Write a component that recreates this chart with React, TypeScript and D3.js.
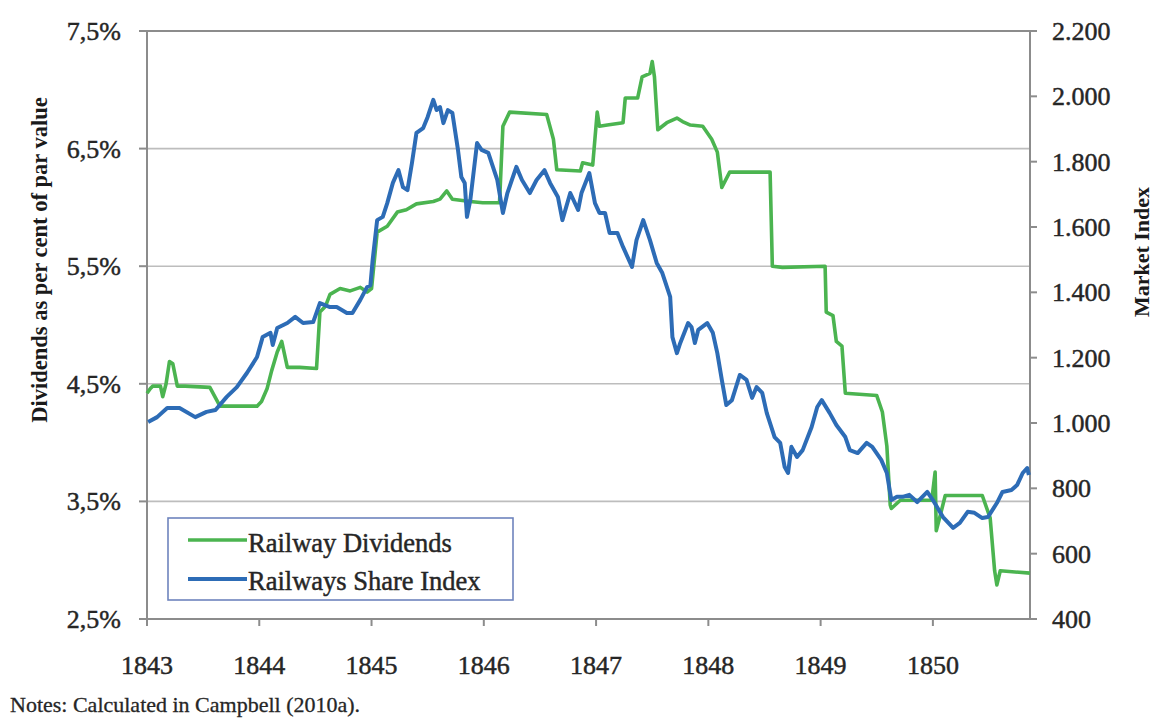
import React from "react";
import * as d3 from "d3";

const leftTicks = [2.5, 3.5, 4.5, 5.5, 6.5, 7.5];
const gridValues = [3.5, 4.5, 5.5, 6.5];
const rightTicks = [400, 600, 800, 1000, 1200, 1400, 1600, 1800, 2000, 2200];
const yearTicks = [1843, 1844, 1845, 1846, 1847, 1848, 1849, 1850];
const xDomain: [number, number] = [1843, 1850.865];
const leftDomain: [number, number] = [2.5, 7.5];
const rightDomain: [number, number] = [400, 2200];

const leftTitle = "Dividends as per cent of par value";
const rightTitle = "Market Index";
const seriesNames = ["Railway Dividends", "Railways Share Index"];
const note = "Notes: Calculated in Campbell (2010a).";

// Railway dividends, per cent of par value
const dividends: [number, number][] = [
  [1843.0, 4.42], [1843.03, 4.46], [1843.05, 4.48], [1843.12, 4.48], [1843.14, 4.39],
  [1843.17, 4.5], [1843.2, 4.69], [1843.23, 4.67], [1843.27, 4.48], [1843.34, 4.48],
  [1843.56, 4.47], [1843.65, 4.31], [1843.98, 4.31], [1844.02, 4.35], [1844.07, 4.46],
  [1844.11, 4.61], [1844.16, 4.77], [1844.2, 4.86], [1844.25, 4.64], [1844.36, 4.64],
  [1844.51, 4.63], [1844.54, 5.11], [1844.59, 5.16], [1844.63, 5.26], [1844.72, 5.31],
  [1844.81, 5.29], [1844.9, 5.32], [1844.96, 5.28], [1845.0, 5.31], [1845.05, 5.79],
  [1845.14, 5.84], [1845.23, 5.96], [1845.31, 5.98], [1845.4, 6.03], [1845.55, 6.05],
  [1845.61, 6.07], [1845.67, 6.14], [1845.72, 6.07], [1845.88, 6.05], [1845.99, 6.04],
  [1846.14, 6.04], [1846.17, 6.69], [1846.23, 6.81], [1846.56, 6.79], [1846.62, 6.58],
  [1846.65, 6.32], [1846.86, 6.31], [1846.88, 6.38], [1846.97, 6.36], [1847.01, 6.81],
  [1847.03, 6.69], [1847.1, 6.7], [1847.24, 6.72], [1847.26, 6.93], [1847.37, 6.93],
  [1847.41, 7.11], [1847.48, 7.14], [1847.5, 7.24], [1847.52, 7.11], [1847.55, 6.66],
  [1847.63, 6.72], [1847.72, 6.76], [1847.77, 6.73], [1847.84, 6.7], [1847.95, 6.69],
  [1848.03, 6.58], [1848.08, 6.47], [1848.12, 6.17], [1848.19, 6.3], [1848.55, 6.3],
  [1848.57, 5.5], [1848.66, 5.49], [1849.04, 5.5], [1849.05, 5.11], [1849.11, 5.08],
  [1849.14, 4.86], [1849.19, 4.82], [1849.22, 4.42], [1849.5, 4.4], [1849.55, 4.26],
  [1849.59, 3.97], [1849.62, 3.47], [1849.63, 3.44], [1849.71, 3.51], [1849.99, 3.51],
  [1850.02, 3.75], [1850.03, 3.25], [1850.06, 3.36], [1850.11, 3.55], [1850.44, 3.55],
  [1850.51, 3.36], [1850.55, 2.91], [1850.57, 2.79], [1850.6, 2.91], [1850.865, 2.89],
];

// Railways share index (market index)
const shareIndex: [number, number][] = [
  [1843.01, 1003], [1843.09, 1018], [1843.18, 1046], [1843.29, 1046], [1843.43, 1018],
  [1843.53, 1034], [1843.61, 1040], [1843.71, 1080], [1843.8, 1110], [1843.89, 1153],
  [1843.98, 1202], [1844.03, 1263], [1844.1, 1276], [1844.12, 1239], [1844.16, 1291],
  [1844.25, 1306], [1844.32, 1325], [1844.39, 1306], [1844.48, 1309], [1844.54, 1367],
  [1844.63, 1355], [1844.69, 1355], [1844.78, 1337], [1844.83, 1337], [1844.9, 1377],
  [1844.96, 1416], [1844.99, 1422], [1845.01, 1499], [1845.05, 1621], [1845.1, 1631],
  [1845.14, 1673], [1845.19, 1735], [1845.24, 1774], [1845.28, 1722], [1845.32, 1713],
  [1845.36, 1796], [1845.4, 1888], [1845.46, 1903], [1845.5, 1937], [1845.55, 1989],
  [1845.58, 1958], [1845.61, 1967], [1845.64, 1918], [1845.68, 1958], [1845.72, 1949],
  [1845.77, 1836], [1845.8, 1753], [1845.83, 1735], [1845.85, 1631], [1845.88, 1683],
  [1845.94, 1857], [1845.98, 1836], [1846.04, 1827], [1846.12, 1744], [1846.17, 1643],
  [1846.21, 1704], [1846.29, 1784], [1846.34, 1744], [1846.41, 1704], [1846.47, 1744],
  [1846.54, 1774], [1846.59, 1735], [1846.66, 1692], [1846.7, 1621], [1846.77, 1704],
  [1846.84, 1652], [1846.87, 1704], [1846.94, 1765], [1846.99, 1673], [1847.03, 1643],
  [1847.08, 1643], [1847.12, 1582], [1847.19, 1582], [1847.24, 1539], [1847.32, 1478],
  [1847.36, 1560], [1847.42, 1621], [1847.48, 1560], [1847.54, 1490], [1847.59, 1459],
  [1847.66, 1386], [1847.68, 1263], [1847.72, 1214], [1847.75, 1245], [1847.82, 1306],
  [1847.85, 1294], [1847.88, 1245], [1847.91, 1285], [1847.99, 1306], [1848.04, 1276],
  [1848.08, 1214], [1848.12, 1132], [1848.16, 1055], [1848.21, 1070], [1848.28, 1147],
  [1848.34, 1132], [1848.39, 1077], [1848.43, 1110], [1848.48, 1092], [1848.52, 1031],
  [1848.59, 957], [1848.64, 939], [1848.68, 865], [1848.71, 847], [1848.74, 927],
  [1848.79, 896], [1848.84, 917], [1848.92, 988], [1848.97, 1049], [1849.01, 1070],
  [1849.08, 1031], [1849.14, 994], [1849.22, 957], [1849.26, 917], [1849.33, 908],
  [1849.41, 939], [1849.46, 927], [1849.54, 887], [1849.59, 847], [1849.63, 764],
  [1849.68, 774], [1849.73, 774], [1849.79, 780], [1849.86, 758], [1849.95, 789],
  [1850.0, 764], [1850.09, 712], [1850.18, 679], [1850.24, 694], [1850.31, 728],
  [1850.37, 725], [1850.44, 709], [1850.49, 712], [1850.57, 755], [1850.62, 789],
  [1850.7, 795], [1850.75, 810], [1850.8, 847], [1850.84, 862], [1850.855, 841],
];

const GREEN = "#4bb450";
const BLUE = "#2d6cb6";
const AXIS = "#8c8c8c";
const GRID = "#bdbdbd";
const TEXT = "#262626";
const FONT = "'Liberation Serif', 'Times New Roman', serif";

const locale = d3.formatLocale({ decimal: ",", thousands: ".", grouping: [3], currency: ["", ""] });
const fmtPct = locale.format(".1f");
const fmtIdx = locale.format(",.0f");

export default function App() {
  const W = 1156;
  const H = 718;
  const plot = { left: 147, right: 1030, top: 31, bottom: 619 };

  const x = d3.scaleLinear().domain(xDomain).range([plot.left, plot.right]);
  const yL = d3.scaleLinear().domain(leftDomain).range([plot.bottom, plot.top]);
  const yR = d3.scaleLinear().domain(rightDomain).range([plot.bottom, plot.top]);

  const lineL = d3.line<[number, number]>().x((d) => x(d[0])).y((d) => yL(d[1]));
  const lineR = d3.line<[number, number]>().x((d) => x(d[0])).y((d) => yR(d[1]));

  const legend = { x: 168, y: 518, w: 345, h: 82 };
  const txt = { fill: TEXT, stroke: TEXT, strokeWidth: 0.45 };

  return (
    <svg
      width={W}
      height={H}
      style={{ position: "absolute", left: 0, top: 0, background: "#fff" }}
      fontFamily={FONT}
    >
      <rect x={0} y={0} width={W} height={H} fill="#fff" />

      {/* gridlines */}
      {gridValues.map((v) => (
        <line key={"g" + v} x1={plot.left} x2={plot.right} y1={yL(v)} y2={yL(v)} stroke={GRID} strokeWidth={1.6} />
      ))}

      {/* frame */}
      <line x1={plot.left} x2={plot.right} y1={plot.top} y2={plot.top} stroke={AXIS} strokeWidth={2} />
      <line x1={plot.left} x2={plot.right} y1={plot.bottom} y2={plot.bottom} stroke={AXIS} strokeWidth={2} />
      <line x1={plot.left} x2={plot.left} y1={plot.top} y2={plot.bottom} stroke={AXIS} strokeWidth={2} />
      <line x1={plot.right} x2={plot.right} y1={plot.top} y2={plot.bottom} stroke={AXIS} strokeWidth={2} />

      {/* left axis */}
      {leftTicks.map((v) => (
        <g key={"l" + v}>
          <line x1={plot.left - 8} x2={plot.left} y1={yL(v)} y2={yL(v)} stroke={AXIS} strokeWidth={2} />
          <text x={121} y={yL(v) + 9} textAnchor="end" fontSize={26} {...txt}>
            {fmtPct(v) + "%"}
          </text>
        </g>
      ))}

      {/* right axis */}
      {rightTicks.map((v) => (
        <g key={"r" + v}>
          <line x1={plot.right} x2={plot.right + 7} y1={yR(v)} y2={yR(v)} stroke={AXIS} strokeWidth={2} />
          <text x={1052} y={yR(v) + 9} textAnchor="start" fontSize={26} {...txt}>
            {fmtIdx(v)}
          </text>
        </g>
      ))}

      {/* bottom axis */}
      {yearTicks.map((v) => (
        <g key={"x" + v}>
          <line x1={x(v)} x2={x(v)} y1={plot.bottom} y2={plot.bottom + 7} stroke={AXIS} strokeWidth={2} />
          <text x={x(v)} y={674} textAnchor="middle" fontSize={26} {...txt}>
            {v}
          </text>
        </g>
      ))}

      {/* axis titles */}
      <text
        transform={`translate(47,260) rotate(-90)`}
        textAnchor="middle"
        fontSize={22.5}
        fontWeight="bold"
        fill="#1a1a1a"
      >
        {leftTitle}
      </text>
      <text
        transform={`translate(1149,252) rotate(-90)`}
        textAnchor="middle"
        fontSize={22}
        fontWeight="bold"
        fill="#1a1a1a"
      >
        {rightTitle}
      </text>

      {/* series */}
      <path d={lineL(dividends) || ""} fill="none" stroke={GREEN} strokeWidth={3.6} strokeLinejoin="round" />
      <path d={lineR(shareIndex) || ""} fill="none" stroke={BLUE} strokeWidth={4} strokeLinejoin="round" />

      {/* legend */}
      <rect x={legend.x} y={legend.y} width={legend.w} height={legend.h} fill="#fff" stroke="#6e84bd" strokeWidth={1.6} />
      <line x1={188} x2={247} y1={540} y2={540} stroke={GREEN} strokeWidth={3.6} />
      <text x={248} y={552} fontSize={26.5} {...txt}>
        {seriesNames[0]}
      </text>
      <line x1={188} x2={247} y1={579} y2={579} stroke={BLUE} strokeWidth={4} />
      <text x={248} y={590} fontSize={26.5} {...txt}>
        {seriesNames[1]}
      </text>

      {/* notes */}
      <text x={10} y={712} fontSize={22} {...txt} strokeWidth={0.3}>
        {note}
      </text>
    </svg>
  );
}
